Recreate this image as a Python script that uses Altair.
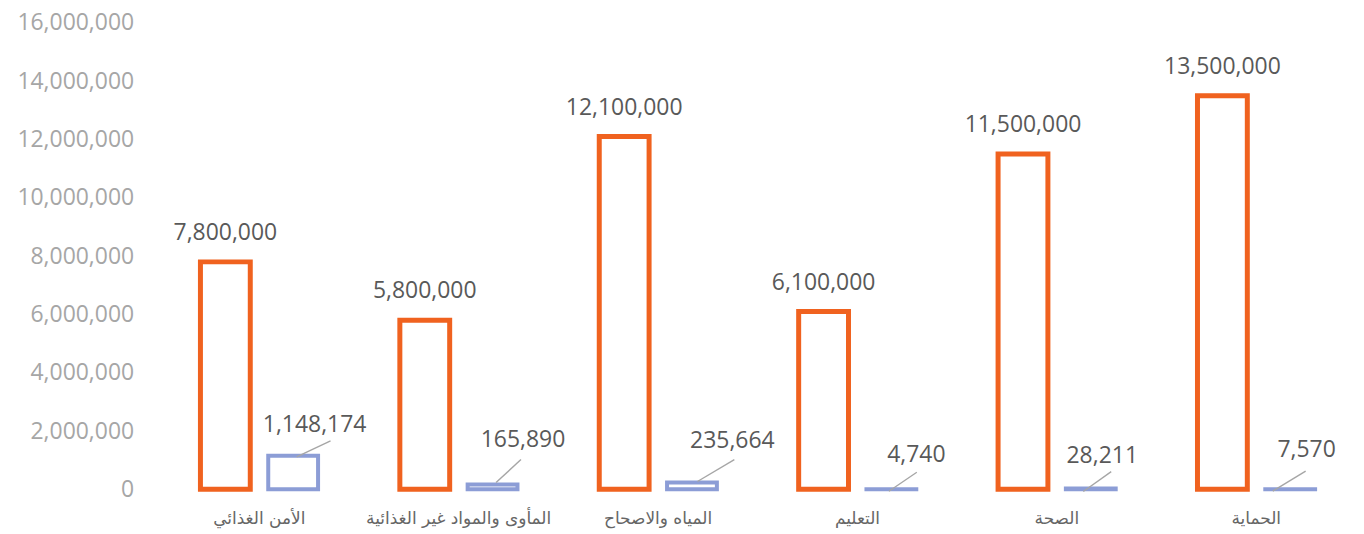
import altair as alt
import pandas as pd

categories = ["الأمن الغذائي", "المأوى والمواد غير الغذائية", "المياه والاصحاح",
              "التعليم", "الصحة", "الحماية"]
target = [7800000, 5800000, 12100000, 6100000, 11500000, 13500000]
reached = [1148174, 165890, 235664, 4740, 28211, 7570]
y_ticks = [0, 2000000, 4000000, 6000000, 8000000, 10000000, 12000000, 14000000, 16000000]

# label placement offsets (pixels) for the small-series callouts, as in the reference
blue_label_dx = [21.5, 30.5, 40.5, 25, 11.5, 16.5]
blue_label_dy = [-24, -38, -35, -27, -26, -32]
leader_paths = ["M3.5,1L37.5,-15", "M3.5,-2L28.5,-25", "M5.5,-1L42.5,-23",
                "M-2.5,2L25.5,-17", "M-7.5,3L20.5,-17", "M-17.5,2L15.5,-18"]

ORANGE = "#F0621F"
BLUE = "#8C9DD6"
LABEL_GRAY = "#595959"
AXIS_GRAY = "#A6A6A6"

rows = []
for c, t, r in zip(categories, target, reached):
    rows.append({"cat": c, "series": "target", "value": t})
    rows.append({"cat": c, "series": "reached", "value": r})
df = pd.DataFrame(rows)

x_enc = alt.X("cat:N", sort=categories,
              scale=alt.Scale(paddingInner=0.32, paddingOuter=0.16),
              axis=alt.Axis(title=None, labelAngle=0, domain=False, ticks=False,
                            labelFont="DejaVu Sans", labelFontSize=17, labelLimit=400,
                            labelColor="#666666", labelPadding=21))
xoff_enc = alt.XOffset("series:N", sort=["target", "reached"],
                       scale=alt.Scale(domain=["target", "reached"],
                                       paddingInner=0.265, paddingOuter=0.1325))
y_enc = alt.Y("value:Q",
              scale=alt.Scale(domain=[0, 16000000], nice=False),
              axis=alt.Axis(title=None, values=y_ticks, format=",.0f", domain=False,
                            ticks=False, grid=False, labelFont="Open Sans",
                            labelFontSize=23, labelColor=AXIS_GRAY, labelPadding=26))

base = alt.Chart(df)

bars = base.mark_bar(fill="white", strokeJoin="miter").encode(
    x=x_enc, xOffset=xoff_enc, y=y_enc,
    stroke=alt.Stroke("series:N", scale=alt.Scale(domain=["target", "reached"],
                                                  range=[ORANGE, BLUE]), legend=None),
    strokeWidth=alt.StrokeWidth("series:N", scale=alt.Scale(domain=["target", "reached"],
                                                            range=[5, 4]), legend=None),
)

orange_text = base.transform_filter(alt.datum.series == "target").mark_text(
    font="Open Sans", fontSize=23, color=LABEL_GRAY, baseline="alphabetic", dy=-22
).encode(x=x_enc, xOffset=xoff_enc, y=y_enc, text=alt.Text("value:Q", format=",.0f"))

layers = [bars, orange_text]
for i, c in enumerate(categories):
    sub = base.transform_filter((alt.datum.series == "reached") & (alt.datum.cat == c))
    leader = sub.mark_point(shape=leader_paths[i], size=4, filled=False, opacity=1,
                            stroke="#A6A6A6", strokeWidth=1.4).encode(
        x=x_enc, xOffset=xoff_enc, y=y_enc)
    label = sub.mark_text(font="Open Sans", fontSize=23, color=LABEL_GRAY,
                          baseline="alphabetic", dx=blue_label_dx[i],
                          dy=blue_label_dy[i]).encode(
        x=x_enc, xOffset=xoff_enc, y=y_enc, text=alt.Text("value:Q", format=",.0f"))
    layers += [leader, label]

chart = alt.layer(*layers).properties(
    width=1200, height=468,
    padding={"left": 152, "top": 14, "right": 0, "bottom": 44},
    autosize=alt.AutoSizeParams(type="none"),
    background="white",
).configure_view(strokeWidth=0)

chart.save("out.html", embed_options={"renderer": "svg", "actions": False})
